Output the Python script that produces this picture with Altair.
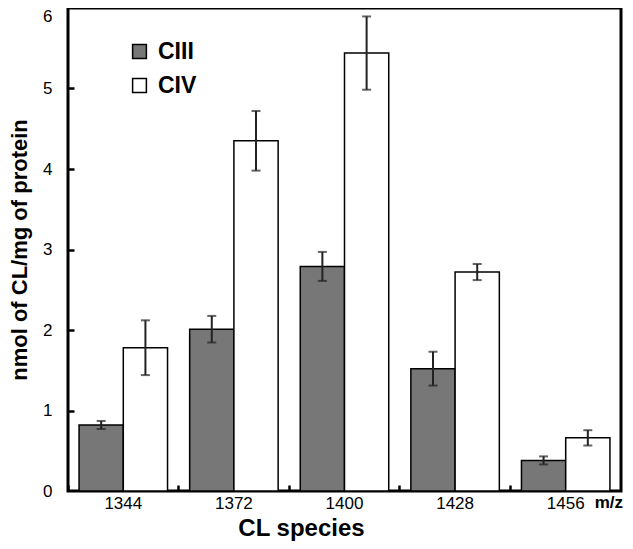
import altair as alt
import pandas as pd

species = ["1344", "1372", "1400", "1428", "1456"]
complexes = ["CIII", "CIV"]
ciii = [0.82, 2.01, 2.79, 1.52, 0.38]
ciii_err = [0.05, 0.165, 0.18, 0.21, 0.05]
civ = [1.78, 4.35, 5.44, 2.72, 0.66]
civ_err = [0.34, 0.37, 0.455, 0.10, 0.095]

rows = []
for i, s in enumerate(species):
    rows.append({"species": s, "complex": "CIII", "value": ciii[i], "err": ciii_err[i]})
    rows.append({"species": s, "complex": "CIV", "value": civ[i], "err": civ_err[i]})
df = pd.DataFrame(rows)
df["lo"] = df["value"] - df["err"]
df["hi"] = df["value"] + df["err"]

FONT = "Liberation Sans"

xscale = alt.Scale(paddingInner=0, paddingOuter=0)
offscale = alt.Scale(paddingInner=0, paddingOuter=0.25)
yscale = alt.Scale(domain=[0, 6], nice=False, zero=True)

xoff = alt.XOffset("complex:N", sort=complexes, scale=offscale)

bars = alt.Chart(df).mark_bar(stroke="black", strokeWidth=1.5).encode(
    x=alt.X("species:N", sort=species, scale=xscale,
            axis=alt.Axis(orient="bottom", title="CL species", labelAngle=0, ticks=False,
                          domain=False, grid=False, labelFontSize=17, labelFont=FONT,
                          labelColor="black", labelPadding=4,
                          titleFont=FONT, titleFontSize=24, titleFontWeight="bold",
                          titleColor="black", titleX=233, titleY=25)),
    xOffset=xoff,
    y=alt.Y("value:Q", scale=yscale,
            axis=alt.Axis(orient="left", title="nmol of CL/mg of protein", values=[0, 1, 2, 3, 4, 5, 6],
                          ticks=False, domain=False, grid=False, labelFontSize=17,
                          labelFont=FONT, labelColor="black", labelPadding=16,
                          labelBaseline=alt.condition("datum.value == 6", alt.value("top"), alt.value("middle")),
                          titleFont=FONT, titleFontSize=22, titleFontWeight="bold",
                          titleColor="black", titlePadding=11)),
    color=alt.Color("complex:N", sort=complexes,
                    scale=alt.Scale(domain=complexes, range=["#777777", "#ffffff"]),
                    legend=alt.Legend(orient="none", legendX=60, legendY=32, title=None,
                                      symbolType="square", symbolSize=190,
                                      symbolStrokeColor="black", symbolStrokeWidth=1.5,
                                      labelFontSize=23, labelFontWeight="bold", labelFont=FONT,
                                      labelColor="black", rowPadding=10, labelOffset=7)),
)

rules = alt.Chart(df).mark_rule(color="#222222", strokeWidth=2).encode(
    x=alt.X("species:N", sort=species, scale=xscale,
            axis=alt.Axis(orient="bottom", title=None, labels=False, domain=False, grid=False,
                          ticks=True, tickSize=6, tickWidth=2.5, tickColor="black",
                          offset=-6, bandPosition=0)),
    xOffset=xoff,
    y=alt.Y("lo:Q", scale=yscale,
            axis=alt.Axis(orient="left", title=None, labels=False, domain=False, grid=False,
                          ticks=True, tickSize=6, tickWidth=2.5, tickColor="black",
                          offset=-6, values=[1, 2, 3, 4, 5])),
    y2="hi:Q",
)

cap_lo = alt.Chart(df).mark_tick(color="#222222", thickness=2, size=9).encode(
    x=alt.X("species:N", sort=species, scale=xscale, axis=None),
    xOffset=xoff,
    y=alt.Y("lo:Q", scale=yscale, axis=None),
)
cap_hi = alt.Chart(df).mark_tick(color="#222222", thickness=2, size=9).encode(
    x=alt.X("species:N", sort=species, scale=xscale, axis=None),
    xOffset=xoff,
    y=alt.Y("hi:Q", scale=yscale, axis=None),
)

mz = alt.Chart(pd.DataFrame({"species": ["1456"], "label": ["m/z"]})).mark_text(
    align="right", baseline="middle", fontSize=17, fontWeight="bold", font=FONT,
    color="black", dx=2).encode(
    x=alt.X("species:N", sort=species, scale=xscale, axis=None, bandPosition=1),
    y=alt.value(495),
    text="label:N",
)

chart = alt.layer(bars, rules, cap_lo, cap_hi, mz).resolve_axis(
    x="independent", y="independent"
).properties(
    width=553, height=483,
    autosize=alt.AutoSizeParams(type="none"),
    padding={"left": 60, "top": 0, "right": 4, "bottom": 58},
    background="white",
).configure_view(stroke="black", strokeWidth=3)

chart.save("out.html", embed_options={"renderer": "svg", "actions": False})
